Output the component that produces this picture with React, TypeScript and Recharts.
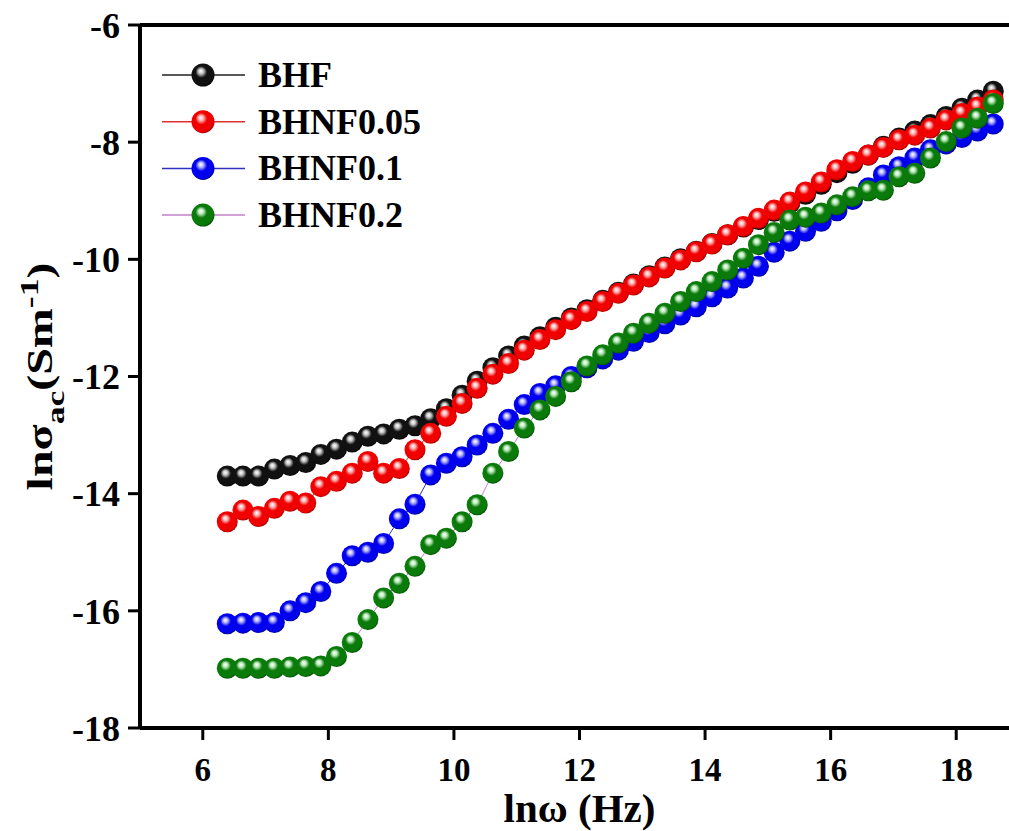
import React from "react";
import {
  LineChart, Line, XAxis, YAxis, Legend, ReferenceLine,
} from "recharts";

// ln(omega) of each measured frequency
const lnOmega = [
  6.39, 6.64, 6.89, 7.14, 7.39, 7.64, 7.88, 8.13, 8.38, 8.63,
  8.88, 9.13, 9.38, 9.63, 9.88, 10.13, 10.37, 10.62, 10.87, 11.12,
  11.37, 11.62, 11.87, 12.12, 12.37, 12.62, 12.86, 13.11, 13.36, 13.61,
  13.86, 14.11, 14.36, 14.61, 14.85, 15.1, 15.35, 15.6, 15.85, 16.1,
  16.35, 16.6, 16.84, 17.09, 17.34, 17.59, 17.84, 18.09, 18.34, 18.59,
];

const bhf = [
  -13.7, -13.7, -13.7, -13.58, -13.52, -13.47, -13.33, -13.24, -13.12, -13.02,
  -12.98, -12.9, -12.84, -12.72, -12.55, -12.32, -12.08, -11.85, -11.65, -11.48,
  -11.32, -11.16, -11.0, -10.86, -10.7, -10.56, -10.42, -10.28, -10.13, -9.99,
  -9.86, -9.73, -9.58, -9.45, -9.32, -9.18, -9.04, -8.89, -8.72, -8.52,
  -8.36, -8.22, -8.07, -7.93, -7.81, -7.7, -7.56, -7.42, -7.28, -7.13,
];

const bhnf005 = [
  -14.48, -14.28, -14.39, -14.25, -14.13, -14.16, -13.88, -13.79, -13.65, -13.45,
  -13.65, -13.57, -13.25, -12.97, -12.68, -12.46, -12.2, -11.96, -11.78, -11.55,
  -11.37, -11.2, -11.03, -10.89, -10.72, -10.58, -10.44, -10.3, -10.15, -10.01,
  -9.87, -9.74, -9.58, -9.44, -9.3, -9.16, -9.02, -8.85, -8.68, -8.47,
  -8.33, -8.22, -8.09, -7.96, -7.88, -7.76, -7.62, -7.51, -7.4, -7.28,
];

const bhnf01 = [
  -16.22, -16.21, -16.2, -16.2, -16.0, -15.86, -15.67, -15.36, -15.06, -15.0,
  -14.85, -14.43, -14.18, -13.68, -13.48, -13.37, -13.17, -12.97, -12.73, -12.48,
  -12.29, -12.16, -12.0, -11.85, -11.7, -11.55, -11.4, -11.25, -11.1, -10.95,
  -10.81, -10.64, -10.49, -10.32, -10.12, -9.88, -9.69, -9.52, -9.35, -9.17,
  -8.98, -8.78, -8.56, -8.42, -8.27, -8.13, -8.03, -7.92, -7.81, -7.69,
];

const bhnf02 = [
  -16.98, -16.98, -16.98, -16.98, -16.96, -16.95, -16.94, -16.78, -16.54, -16.15,
  -15.78, -15.53, -15.24, -14.87, -14.76, -14.48, -14.19, -13.65, -13.28, -12.88,
  -12.57, -12.34, -12.09, -11.82, -11.63, -11.43, -11.26, -11.09, -10.92, -10.72,
  -10.55, -10.38, -10.18, -9.98, -9.75, -9.54, -9.33, -9.28, -9.21, -9.07,
  -8.93, -8.83, -8.82, -8.59, -8.53, -8.27, -7.99, -7.76, -7.59, -7.34,
];

const xTicks = [6, 8, 10, 12, 14, 16, 18];
const yTicks = [-18, -16, -14, -12, -10, -8, -6];

const data = lnOmega.map((x, i) => ({
  x,
  bhf: bhf[i],
  bhnf005: bhnf005[i],
  bhnf01: bhnf01[i],
  bhnf02: bhnf02[i],
}));

const FONT = "Liberation Serif, Liberation Sans, Arial, sans-serif";

const SERIES = [
  { key: "bhf", name: "BHF", line: "#222", grad: "sp-black", hi: "#c8c8c8", base: "#111", dark: "#000" },
  { key: "bhnf005", name: "BHNF0.05", line: "#e03030", grad: "sp-red", hi: "#ffb8b8", base: "#f00000", dark: "#8a0000" },
  { key: "bhnf01", name: "BHNF0.1", line: "#3030c0", grad: "sp-blue", hi: "#b8b8ff", base: "#0000ee", dark: "#000070" },
  { key: "bhnf02", name: "BHNF0.2", line: "#c080c8", grad: "sp-green", hi: "#c0ecc0", base: "#0a7a0a", dark: "#024002" },
];

const sphereDot = (grad: string, r: number) => (p: any) => (
  <circle key={`${grad}-${p.index}`} cx={p.cx} cy={p.cy} r={r} fill={`url(#${grad})`} stroke="none" />
);

function LegendBox() {
  return (
    <svg width={320} height={190} style={{ display: "block" }}>
      {SERIES.map((s, i) => {
        const cy = 23 + i * 46.7;
        return (
          <g key={s.key}>
            <line x1={12} x2={95} y1={cy} y2={cy} stroke={s.line} strokeWidth={1.5} />
            <circle cx={53} cy={cy} r={11.5} fill={`url(#${s.grad})`} />
            <text x={108} y={cy + 12} style={{ fontFamily: FONT, fontWeight: 700, fontSize: 36 }} fill="#000">
              {s.name}
            </text>
          </g>
        );
      })}
    </svg>
  );
}

function YTitle(props: any) {
  const vb = props.viewBox || {};
  const cx = 52;
  const cy = (vb.y ?? 25) + (vb.height ?? 703) / 2;
  return (
    <g transform={`translate(${cx} ${cy}) rotate(-90) scale(1.37 1)`}>
      <text
        x={0}
        y={0}
        textAnchor="middle"
        style={{ fontFamily: FONT, fontWeight: 700, fontSize: 35 }}
        fill="#000"
      >
        lnσ<tspan dy={12} style={{ fontSize: 26 }}>ac</tspan>
        <tspan dy={-12}>(Sm</tspan>
        <tspan dy={-14} style={{ fontSize: 26 }}>-1</tspan>
        <tspan dy={14}>)</tspan>
      </text>
    </g>
  );
}

export default function App() {
  const xTickStyle = { fontSize: 33, fontWeight: 700, fill: "#000", fontFamily: FONT };
  const yTickStyle = { fontSize: 36, fontWeight: 700, fill: "#000", fontFamily: FONT };
  return (
    <div style={{ position: "absolute", left: 0, top: 0, width: 1009, height: 831, overflow: "hidden", background: "#fff", fontFamily: FONT }}>
      <LineChart
        width={1030}
        height={831}
        data={data}
        margin={{ top: 25, right: 11, bottom: 0, left: 80 }}
        style={{ fontFamily: FONT }}
      >
        <defs>
          {SERIES.map((s) => (
            <radialGradient key={s.grad} id={s.grad} cx="46%" cy="44%" r="60%" fx="40%" fy="32%">
              <stop offset="0%" stopColor="#ffffff" />
              <stop offset="18%" stopColor={s.hi} />
              <stop offset="42%" stopColor={s.base} />
              <stop offset="82%" stopColor={s.base} />
              <stop offset="100%" stopColor={s.dark} />
            </radialGradient>
          ))}
        </defs>
        <XAxis
          dataKey="x"
          type="number"
          domain={[5, 19]}
          ticks={xTicks}
          height={103}
          tickSize={12}
          tickMargin={18}
          tick={xTickStyle}
          axisLine={{ stroke: "#000", strokeWidth: 4 }}
          tickLine={{ stroke: "#000", strokeWidth: 3 }}
          label={{ value: "lnω (Hz)", position: "insideBottom", offset: 9, fontSize: 41, fontWeight: 700, fill: "#000", fontFamily: FONT }}
        />
        <YAxis
          type="number"
          domain={[-18, -6]}
          ticks={yTicks}
          width={60}
          tickSize={12}
          tickMargin={8}
          tick={yTickStyle}
          axisLine={{ stroke: "#000", strokeWidth: 4 }}
          tickLine={{ stroke: "#000", strokeWidth: 3 }}
          label={{ content: (p: any) => <YTitle {...p} /> }}
        />
        <ReferenceLine y={-6} stroke="#000" strokeWidth={4} />
        <ReferenceLine x={19} stroke="#000" strokeWidth={4} />
        <Legend
          layout="vertical"
          align="center"
          verticalAlign="middle"
          wrapperStyle={{ position: "absolute", left: 150, top: 52, width: 320, height: 190 }}
          content={() => <LegendBox />}
        />
        {SERIES.map((s) => (
          <Line
            key={s.key}
            dataKey={s.key}
            name={s.name}
            stroke={s.line}
            strokeWidth={1}
            dot={sphereDot(s.grad, 10.5)}
            activeDot={false}
            isAnimationActive={false}
          />
        ))}
      </LineChart>
    </div>
  );
}
